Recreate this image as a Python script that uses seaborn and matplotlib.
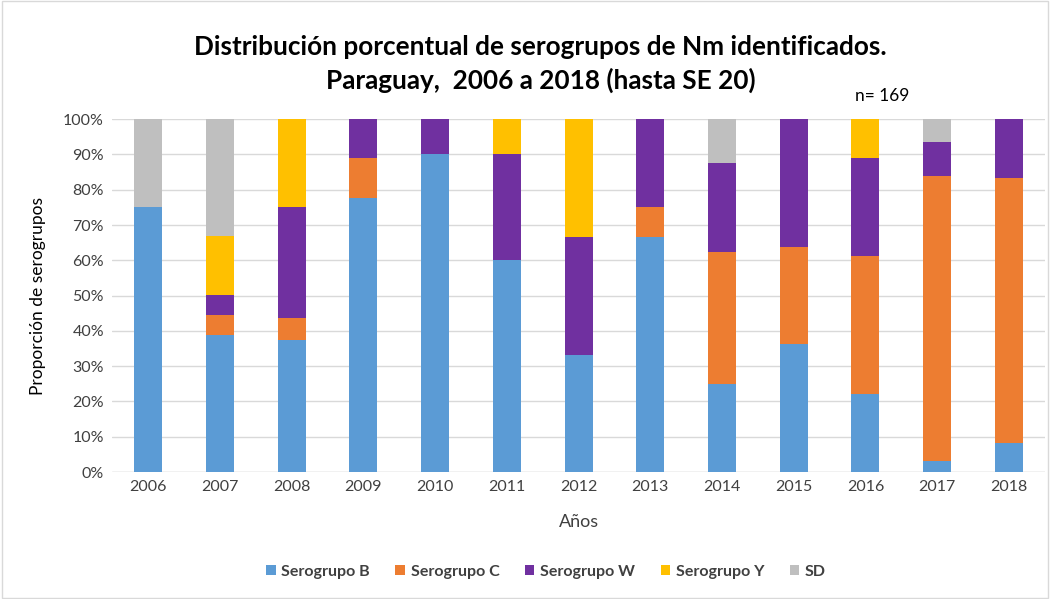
import matplotlib
matplotlib.use("Agg")
import matplotlib.pyplot as plt
import seaborn as sns
import pandas as pd
import numpy as np
from matplotlib.patches import Patch, Rectangle
from matplotlib.ticker import PercentFormatter

years = ["2006", "2007", "2008", "2009", "2010", "2011", "2012",
         "2013", "2014", "2015", "2016", "2017", "2018"]
serogrupo_b = [75.0, 38.9, 37.5, 77.8, 90.0, 60.0, 33.3, 66.7, 25.0, 36.4, 22.2, 3.2, 8.3]
serogrupo_c = [0.0, 5.6, 6.25, 11.1, 0.0, 0.0, 0.0, 8.3, 37.5, 27.3, 38.9, 80.6, 75.0]
serogrupo_w = [0.0, 5.6, 31.25, 11.1, 10.0, 30.0, 33.3, 25.0, 25.0, 36.4, 27.8, 9.7, 16.7]
serogrupo_y = [0.0, 16.7, 25.0, 0.0, 0.0, 10.0, 33.4, 0.0, 0.0, 0.0, 11.1, 0.0, 0.0]
sd = [25.0, 33.2, 0.0, 0.0, 0.0, 0.0, 0.0, 0.0, 12.5, 0.0, 0.0, 6.5, 0.0]

series_names = ["Serogrupo B", "Serogrupo C", "Serogrupo W", "Serogrupo Y", "SD"]
series_vals = [serogrupo_b, serogrupo_c, serogrupo_w, serogrupo_y, sd]
colors = ["#5B9BD5", "#ED7D31", "#7030A0", "#FFC000", "#BFBFBF"]

sns.set_theme(style="white")
plt.rcParams['font.family'] = ['Lato', 'DejaVu Sans']

fig = plt.figure(figsize=(10.5, 5.99), dpi=100)
ax = fig.add_axes([0.107, 0.212, 0.888, 0.589])

cum = np.cumsum(np.array(series_vals, dtype=float), axis=0)
for i in range(len(series_names) - 1, -1, -1):
    df = pd.DataFrame({"year": years, "value": cum[i]})
    sns.barplot(data=df, x="year", y="value", color=colors[i], width=0.39,
                saturation=1, ax=ax, zorder=3, linewidth=0)

ax.set_ylim(0, 100)
ax.set_xlim(-0.5, len(years) - 0.5)
ax.set_yticks(np.arange(0, 101, 10))
ax.yaxis.set_major_formatter(PercentFormatter(decimals=0))
ax.grid(axis="y", color="#D9D9D9", linewidth=1.0, zorder=0)
ax.set_axisbelow(True)
for s in ["top", "right", "left", "bottom"]:
    ax.spines[s].set_visible(False)
ax.axhline(0, color="#D9D9D9", linewidth=1.0, zorder=1)
ax.tick_params(axis="both", labelsize=11.5, colors="#404040", length=0, pad=6)
ax.set_xlabel("Años", fontsize=13, color="#404040", labelpad=14)
ax.set_ylabel("Proporción de serogrupos", fontsize=12.5, color="#000000", labelpad=12)

fig.text(0.515, 0.921, "Distribución porcentual de serogrupos de Nm identificados.",
         ha="center", va="center", fontsize=18.8, fontweight="bold", color="#000000")
fig.text(0.515, 0.866, "Paraguay,  2006 a 2018 (hasta SE 20)",
         ha="center", va="center", fontsize=18.8, fontweight="bold", color="#000000")
fig.text(0.84, 0.84, "n= 169", ha="center", va="center", fontsize=12.5, color="#000000")

handles = [Patch(facecolor=c, edgecolor="none", label=n) for c, n in zip(colors, series_names)]
leg = fig.legend(handles=handles, loc="center", bbox_to_anchor=(0.52, 0.045), ncol=5,
                 frameon=False, fontsize=11.5, handlelength=0.6, handleheight=0.6,
                 columnspacing=1.6, handletextpad=0.35)
for t in leg.get_texts():
    t.set_fontweight("bold")
    t.set_color("#404040")

fig.patches.append(Rectangle((0.002, 0.002), 0.996, 0.996, transform=fig.transFigure,
                             fill=False, edgecolor="#D9D9D9", linewidth=1))

fig.savefig("out.png", dpi=100, facecolor="white")
